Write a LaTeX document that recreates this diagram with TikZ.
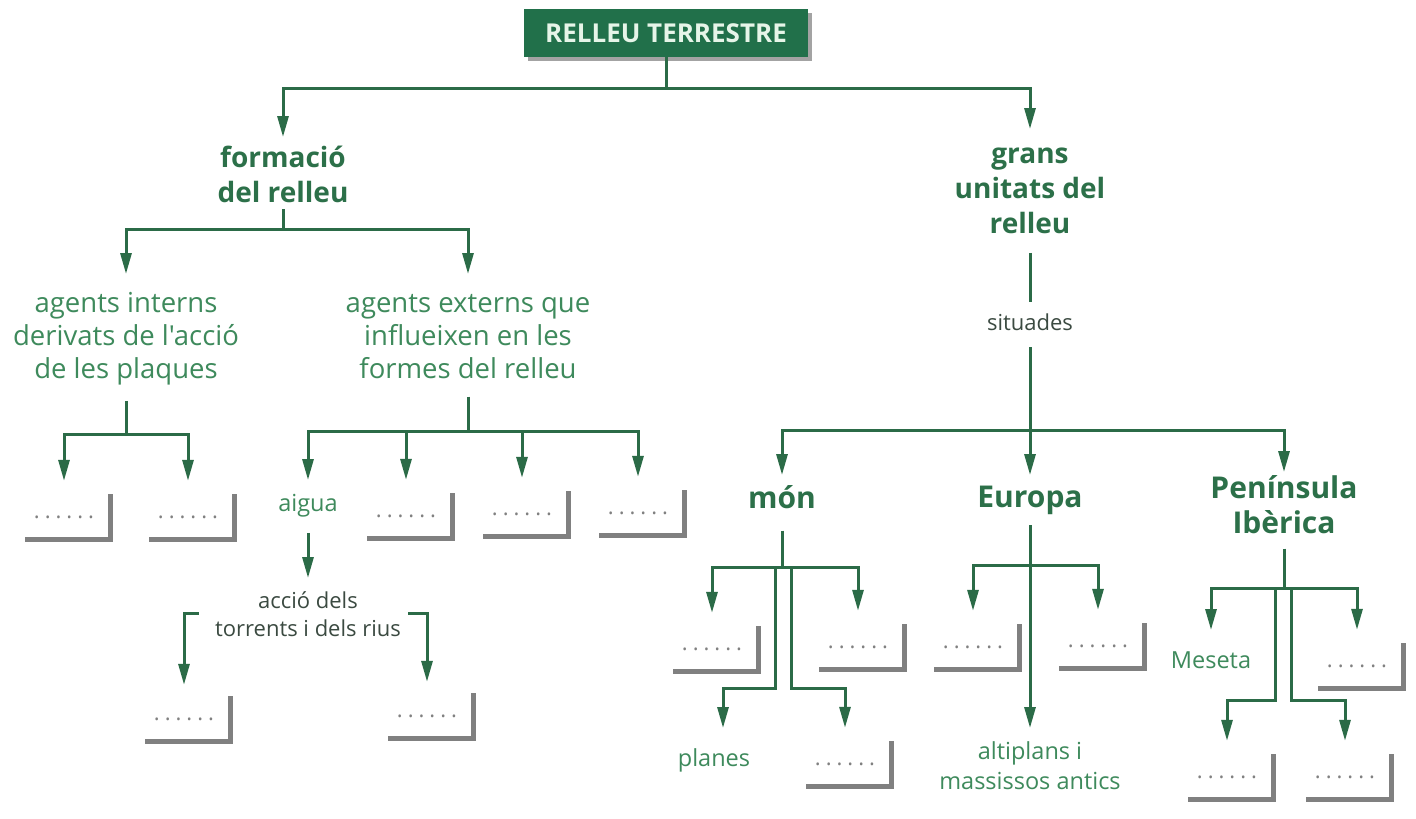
\documentclass[tikz,border=0pt]{standalone}
\usepackage{fontspec}
\setmainfont{Open Sans}[Ligatures=TeXOff]
\usetikzlibrary{arrows.meta,shadows}
\definecolor{lc}{HTML}{2B6B47}
\definecolor{tg}{HTML}{3E8A5C}
\definecolor{hg}{HTML}{2C7049}
\definecolor{dk}{HTML}{3B4A41}
\definecolor{tf}{HTML}{21704A}
\definecolor{tt}{HTML}{E6F5E8}
\newcommand\blankdots{.\kern5pt.\kern5pt.\kern5pt.\kern5pt.\kern5pt.}
\newcommand\ascstrut{\vphantom{l}}
\begin{document}
\begin{tikzpicture}[x=1pt,y=-1pt,
  ln/.style={draw=lc,line width=3pt},
  arr/.style={ln,-{Triangle[length=21pt,width=11pt]}},
  titlebox/.style={fill=tf,text=tt,font=\bfseries\fontsize{26}{30}\selectfont,minimum width=284pt,minimum height=48pt,inner sep=0pt,drop shadow={shadow xshift=4pt,shadow yshift=-4pt,fill=black!60,opacity=0.6}},
  mainlbl/.style={anchor=north,align=center,inner sep=2pt,text=tg,font=\fontsize{27.5}{33}\selectfont},
  headlbl/.style={anchor=north,align=center,inner sep=2pt,text=hg,font=\bfseries\fontsize{28}{35}\selectfont},
  reglbl/.style={anchor=north,align=center,inner sep=2pt,text=hg,font=\bfseries\fontsize{30}{35}\selectfont},
  smalllbl/.style={anchor=north,align=center,inner sep=2pt,text=dk,font=\fontsize{22}{28}\selectfont},
  leaflbl/.style={anchor=north,align=center,inner sep=2pt,text=tg,font=\fontsize{23.5}{30}\selectfont},
  blankbox/.style={fill=white,minimum width=88pt,minimum height=48pt,inner sep=0pt,text=black!50,font=\fontsize{22}{22}\selectfont,text height=10pt,text depth=0pt,drop shadow={shadow xshift=4.5pt,shadow yshift=-4.5pt,fill=black!62,opacity=0.8}},
]
\fill[white] (0,0) rectangle (1416,819);
\useasboundingbox (0,0) rectangle (1416,819);

% nodes
\node[titlebox] (title) at (666,33) {RELLEU TERRESTRE};
\node[headlbl] (formacio) at (283,144) {\ascstrut formació\\del relleu};
\node[headlbl] (grans) at (1030,140) {\ascstrut grans\\unitats del\\relleu};
\node[mainlbl] (interns) at (126,289) {\ascstrut agents interns\\derivats de l'acció\\de les plaques};
\node[mainlbl] (externs) at (468,289) {\ascstrut agents externs que\\influeixen en les\\formes del relleu};
\node[leaflbl] (aigua) at (308,491) {\ascstrut aigua};
\node[smalllbl] (accio) at (308,589) {\ascstrut acció dels\\torrents i dels rius};
\node[smalllbl] (situades) at (1030,312) {\ascstrut situades};
\node[reglbl] (mon) at (782,483) {\ascstrut món};
\node[reglbl] (europa) at (1030,483) {\ascstrut Europa};
\node[reglbl] (peninsula) at (1284,473) {\ascstrut Península\\Ibèrica};
\node[leaflbl] (planes) at (714,746) {\ascstrut planes};
\node[leaflbl] (meseta) at (1211,648) {\ascstrut Meseta};
\node[leaflbl] (altiplans) at (1030,739) {\ascstrut altiplans i\\massissos antics};

\node[blankbox] (b1) at (64,513) {\blankdots};
\node[blankbox] (b2) at (188,513) {\blankdots};
\node[blankbox] (e2) at (406,512) {\blankdots};
\node[blankbox] (e3) at (522,510) {\blankdots};
\node[blankbox] (e4) at (638,509) {\blankdots};
\node[blankbox] (t1) at (184,715) {\blankdots};
\node[blankbox] (t2) at (427,712) {\blankdots};
\node[blankbox] (m1) at (712,645) {\blankdots};
\node[blankbox] (m2) at (858,643) {\blankdots};
\node[blankbox] (m4) at (845,760) {\blankdots};
\node[blankbox] (eu1) at (973,643) {\blankdots};
\node[blankbox] (eu2) at (1098,642) {\blankdots};
\node[blankbox] (p2) at (1357,662) {\blankdots};
\node[blankbox] (p3) at (1227,773) {\blankdots};
\node[blankbox] (p4) at (1345,773) {\blankdots};

% junctions
\coordinate (j0) at (666,88);
\coordinate (j1) at (283,229);
\coordinate (j2) at (126,434);
\coordinate (j3) at (468,431);
\coordinate (j4) at (1030,430);
\coordinate (j5) at (782,567);
\coordinate (j5a) at (775,567);
\coordinate (k5a) at (775,688);
\coordinate (j5b) at (791,567);
\coordinate (k5b) at (791,688);
\coordinate (j6) at (1030,565);
\coordinate (j7) at (1284,588);
\coordinate (j7a) at (1275,588);
\coordinate (k7a) at (1275,700);
\coordinate (j7b) at (1291,588);
\coordinate (k7b) at (1291,700);

% connectors
\draw[ln] (title.south) -- (j0);
\draw[arr,shorten >=7pt] (j0) -| (formacio.north);
\draw[arr,shorten >=11pt] (j0) -| (grans.north);

\draw[ln,shorten <=4pt] (formacio.south) -- (j1);
\draw[arr,shorten >=15pt] (j1) -| (interns.north);
\draw[arr,shorten >=15pt] (j1) -| (externs.north);

\draw[ln,shorten <=14pt] (interns.south) -- (j2);
\draw[arr,shorten >=8pt] (j2) -| (b1.north);
\draw[arr,shorten >=8pt] (j2) -| (b2.north);

\draw[ln,shorten <=16pt] (externs.south) -- (j3);
\draw[arr,shorten >=11pt] (j3) -| (aigua.north);
\draw[arr,shorten >=8pt] (j3) -| (e2.north);
\draw[arr,shorten >=8pt] (j3) -| (e3.north);
\draw[arr,shorten >=8pt] (j3) -| (e4.north);

\draw[arr,shorten <=14pt,shorten >=11pt] (aigua.south) -- (accio.north);
\draw[arr,shorten <=14pt,shorten >=6pt] (accio.west) -| (t1.north);
\draw[arr,shorten <=5pt,shorten >=6pt] (accio.east) -| (t2.north);

\draw[ln,shorten <=17pt,shorten >=10pt] (grans.south) -- (situades.north);
\draw[ln,shorten <=14pt] (situades.south) -- (j4);
\draw[arr,shorten >=8pt] (j4) -| (mon.north);
\draw[arr,shorten >=8pt] (j4) -- (europa.north);
\draw[arr,shorten >=1pt] (j4) -| (peninsula.north);

\draw[ln,shorten <=20pt] (mon.south) -- (j5);
\draw[arr,shorten >=8pt] (j5) -| (m1.north);
\draw[arr,shorten >=8pt] (j5) -| (m2.north);
\draw[arr,shorten >=18pt] (j5a) -- (k5a) -| ([xshift=9pt]planes.north);
\draw[arr,shorten >=8pt] (j5b) -- (k5b) -| (m4.north);

\draw[arr,shorten <=8pt,shorten >=11pt] (europa.south) -- (altiplans.north);
\draw[arr,shorten >=8pt] (j6) -| (eu1.north);
\draw[arr,shorten >=8pt] (j6) -| (eu2.north);

\draw[ln,shorten <=13pt] (peninsula.south) -- (j7);
\draw[arr,shorten >=18pt] (j7) -| (meseta.north);
\draw[arr,shorten >=8pt] (j7) -| (p2.north);
\draw[arr,shorten >=8pt] (j7a) -- (k7a) -| (p3.north);
\draw[arr,shorten >=8pt] (j7b) -- (k7b) -| (p4.north);
\end{tikzpicture}
\end{document}
